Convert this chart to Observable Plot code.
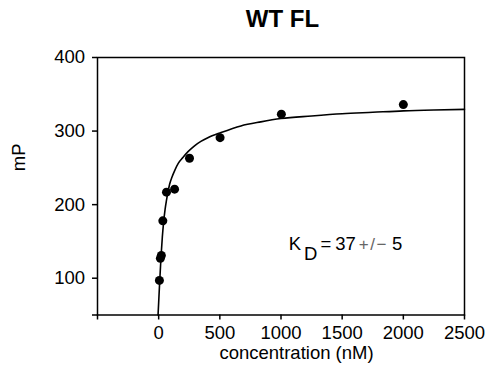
<!DOCTYPE html>
<html>
<head>
<meta charset="utf-8">
<script src="https://cdn.jsdelivr.net/npm/d3@7"></script>
<script src="https://cdn.jsdelivr.net/npm/@observablehq/plot@0.6"></script>
<style>
  html, body { margin: 0; padding: 0; background: #fff; }
</style>
</head>
<body>
<div id="chart"></div>
<script>
// Measured data points
const concentration = [6, 14, 22, 34, 64, 130, 252, 502, 1003, 2000];
const mP = [97, 127, 131, 178, 217, 221, 263, 291, 323, 336];

// Fitted curve
const fitX = [-5, 0, 8, 16, 22, 30, 41, 52, 63, 76, 90, 110, 130, 160, 198, 240, 293, 345, 402, 510, 672, 835, 1000, 1250, 1500, 1750, 2000, 2250, 2500];
const fitY = [50, 67, 94, 119, 136, 156, 177, 193, 205, 217, 228, 238, 246, 256, 264, 272, 280, 286, 291, 298, 307, 312.5, 317, 320.5, 323.5, 325.5, 327.5, 328.7, 329.5];

// Axes
const xTicks = [-500, 0, 500, 1000, 1500, 2000, 2500];
const xTickLabels = [0, 500, 1000, 1500, 2000, 2500];
const yTicks = [50, 100, 200, 300, 400];
const yTickLabels = [100, 200, 300, 400];
const xDomain = [-500, 2500];
const yDomain = [50, 400];

const title = "WT FL";
const xLabel = "concentration (nM)";
const yLabel = "mP";
const kdAnnotation = [{x: 1063, y: 147, label: "KD_MARKER"}];

const points = concentration.map((c, i) => ({c, v: mP[i]}));
const fit = fitX.map((x, i) => ({x, y: fitY[i]}));

const chart = Plot.plot({
  width: 485,
  height: 374,
  marginLeft: 97,
  marginRight: 21,
  marginTop: 57,
  marginBottom: 59.5,
  style: {fontFamily: "Arial, 'Liberation Sans', sans-serif", fontSize: "18.5px", color: "black", background: "white"},
  x: {domain: xDomain},
  y: {domain: yDomain},
  marks: [
    Plot.axisX({ticks: xTicks, tickSize: 5, tickPadding: 5.5, strokeWidth: 1.5,
      tickFormat: d => xTickLabels.includes(d) ? String(d) : "", label: null}),
    Plot.axisY({ticks: yTicks, tickSize: 5, tickPadding: 7.5, strokeWidth: 1.5,
      tickFormat: d => yTickLabels.includes(d) ? String(d) : "", label: null}),
    Plot.line(fit, {x: "x", y: "y", curve: "monotone-x", stroke: "black", strokeWidth: 1.6}),
    Plot.dot(points, {x: "c", y: "v", r: 4.5, fill: "black", stroke: "none"}),
    Plot.frame({stroke: "black", strokeWidth: 1.5}),
    Plot.text([title], {frameAnchor: "top", dx: 1.5, dy: -37.7, lineAnchor: "middle",
      fontSize: 24, fontWeight: "bold", fill: "black"}),
    Plot.text([xLabel], {frameAnchor: "bottom", dx: 15.5, dy: 38.5, lineAnchor: "middle", fill: "black"}),
    Plot.text([yLabel], {frameAnchor: "left", rotate: -90, dx: -78, dy: -15, lineAnchor: "middle", fill: "black"}),
    Plot.text(kdAnnotation, {x: "x", y: "y", text: "label", textAnchor: "start", fill: "black"})
  ]
});

document.getElementById("chart").appendChild(chart);

// Build subscript / styled parts of the K_D annotation
const kdText = d3.select(chart).selectAll("text").filter(function() { return this.textContent === "KD_MARKER"; });
kdText.text(null);
kdText.append("tspan").text("K");
kdText.append("tspan").attr("dx", 3).attr("dy", 10).text("D");
kdText.append("tspan").attr("dx", 3).attr("dy", -10).text("=");
kdText.append("tspan").attr("dx", 4).text("37");
kdText.append("tspan").attr("dx", 3).attr("fill", "#666").style("font-size", "17px").style("letter-spacing", "1.5px").style("font-weight", "300").text("+/\u2212");
kdText.append("tspan").attr("dx", 4).text("5");
</script>
</body>
</html>
